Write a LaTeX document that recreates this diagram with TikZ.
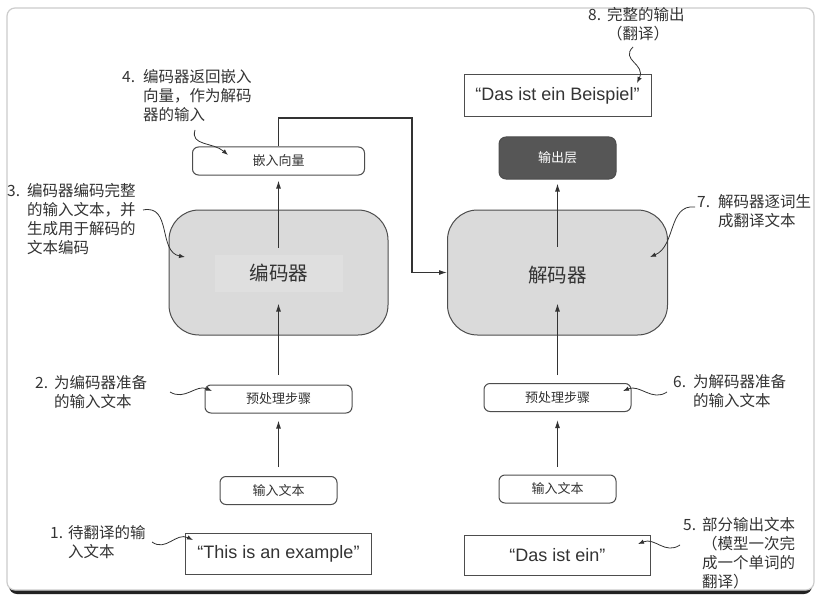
\documentclass[tikz,border=0pt]{standalone}
\usepackage{fontspec}
\setmainfont{Liberation Sans}
\newfontfamily\cjk{Noto Sans CJK SC}
\usetikzlibrary{arrows.meta}
\definecolor{txt}{HTML}{333333}
\definecolor{edge}{HTML}{4D4D4D}
\definecolor{boxfill}{HTML}{DADADA}
\definecolor{hilite}{HTML}{DFDFDF}
\definecolor{darkfill}{HTML}{565656}
\definecolor{shadow}{HTML}{222222}
\begin{document}
\begin{tikzpicture}[x=1pt,y=-1pt,
  smallbox/.style={draw=edge, line width=1pt, rounded corners=6pt, minimum width=#1,
    minimum height=28pt, inner sep=0pt, fill=white, font=\cjk\fontsize{13}{15}\selectfont, text=txt},
  bigbox/.style={draw=edge, line width=1pt, rounded corners=30pt, fill=boxfill,
    minimum width=219pt, minimum height=125pt, inner sep=0pt},
  bigtext/.style={font=\cjk\fontsize{19.5}{22}\selectfont, text=txt, inner sep=0pt},
  quotebox/.style={draw=edge, line width=1pt, minimum width=186pt, minimum height=41pt,
    inner sep=0pt, fill=white, font=\fontsize{18}{21}\selectfont, text=txt},
  darkbox/.style={draw=edge, line width=1pt, rounded corners=7pt, fill=darkfill,
    minimum width=117pt, minimum height=42pt, inner sep=0pt,
    font=\cjk\fontsize{13}{15}\selectfont, text=white},
  lab/.style={font=\cjk\fontsize{15.5}{19}\selectfont, text=txt, inner sep=0pt, anchor=north west},
  arr/.style={draw=txt, line width=1.1pt, -{Latex[length=8pt,width=5pt]}},
  squig/.style={draw=txt, line width=0.8pt, -{Latex[length=6pt,width=4.5pt]}}
]
% background and card
\useasboundingbox (0,0) rectangle (818,596);
\fill[white] (0,0) rectangle (818,596);
\fill[shadow, rounded corners=8pt] (9,12) rectangle (812,594);
\draw[gray!40, line width=1.2pt, fill=white, rounded corners=8pt] (7,8) rectangle (814,590);

% encoder column
\node[bigbox] (enc) at (278.5,272.5) {};
\node[bigtext, fill=hilite, minimum width=128pt, minimum height=37pt] (enct) at (279,273) {编码器};
\node[smallbox=172pt] (emb) at (278.5,161) {嵌入向量};
\node[smallbox=147pt] (preL) at (278.5,399) {预处理步骤};
\node[smallbox=117pt] (inL) at (278.5,490.5) {输入文本};
\node[quotebox] (exL) at (278.5,554) {“This is an example”};

% decoder column
\node[bigbox, minimum width=220pt] (dec) at (557.5,272.5) {};
\node[bigtext] (dect) at (557.5,275) {解码器};
\node[darkbox] (outl) at (557.5,158) {输出层};
\node[quotebox, minimum width=187pt, minimum height=42pt] (outtxt) at (557.5,96) {“Das ist ein Beispiel”};
\node[smallbox=147pt] (preR) at (557.5,397.5) {预处理步骤};
\node[smallbox=117pt] (inR) at (557.5,489) {输入文本};
\node[quotebox, minimum height=40pt] (exR) at (557.5,555) {“Das ist ein”};

% main arrows
\draw[arr, shorten <=9pt, shorten >=7pt] (inL) -- (preL);
\draw[arr, shorten <=10pt, shorten >=-32pt] (preL) -- (enc);
\draw[arr, shorten <=-38pt, shorten >=5pt] (enc) -- (emb);
\draw[arr, shorten <=8pt, shorten >=8pt] (inR) -- (preR);
\draw[arr, shorten <=8pt, shorten >=-32pt] (preR) -- (dec);
\draw[arr, shorten <=-37pt, shorten >=4pt] (dec) -- (outl);
\coordinate (k1) at (412,118);
\draw[arr] (emb.north) |- (k1) |- (dec.west);

% annotation labels
\node[lab] (l1) at (50,525) {\begin{tabular}{@{}l@{}l@{}}\makebox[18pt][l]{1.}&待翻译的输\\&入文本\end{tabular}};
\node[lab] (l2) at (35,375) {\begin{tabular}{@{}l@{}l@{}}\makebox[19pt][l]{2.}&为编码器准备\\&的输入文本\end{tabular}};
\node[lab] (l3) at (7,183) {\begin{tabular}{@{}l@{}l@{}}\makebox[20pt][l]{3.}&编码器编码完整\\&的输入文本，并\\&生成用于解码的\\&文本编码\end{tabular}};
\node[lab] (l4) at (122,69) {\begin{tabular}{@{}l@{}l@{}}\makebox[21pt][l]{4.}&编码器返回嵌入\\&向量，作为解码\\&器的输入\end{tabular}};
\node[lab] (l5) at (683,517) {\begin{tabular}{@{}l@{}l@{}}\makebox[19pt][l]{5.}&部分输出文本\\&（模型一次完\\&成一个单词的\\&翻译）\end{tabular}};
\node[lab] (l6) at (673,374) {\begin{tabular}{@{}l@{}l@{}}\makebox[20pt][l]{6.}&为解码器准备\\&的输入文本\end{tabular}};
\node[lab] (l7) at (697,194) {\begin{tabular}{@{}l@{}l@{}}\makebox[21pt][l]{7.}&解码器逐词生\\&成翻译文本\end{tabular}};
\node[lab] (l8) at (588,7) {\begin{tabular}{@{}l@{}l@{}}\makebox[19pt][l]{8.}&完整的输出\\&（翻译）\end{tabular}};

% squiggle connectors
\coordinate (s1) at (152,542); \coordinate (t1) at (193,540);
\coordinate (s2) at (170,392); \coordinate (t2) at (212,391);
\coordinate (s3) at (143,210); \coordinate (t3) at (185,257);
\coordinate (s4) at (195,130); \coordinate (t4) at (228,155);
\coordinate (s5) at (680,545); \coordinate (t5) at (638,544);
\coordinate (s6) at (667,392); \coordinate (t6) at (623,391);
\coordinate (s7) at (695,207); \coordinate (t7) at (650,257);
\coordinate (s8) at (633,47);  \coordinate (t8) at (637,83);
\draw[squig] (s1) .. controls (166,552) and (176,532) .. (t1);
\draw[squig] (s2) .. controls (185,401) and (196,384) .. (t2);
\draw[squig] (s3) .. controls (172,204) and (158,252) .. (t3);
\draw[squig] (s4) .. controls (190,146) and (213,142) .. (t4);
\draw[squig] (s5) .. controls (665,555) and (655,537) .. (t5);
\draw[squig] (s6) .. controls (652,402) and (640,384) .. (t6);
\draw[squig] (s7) .. controls (668,204) and (676,246) .. (t7);
\draw[squig] (s8) .. controls (620,60) and (646,64) .. (t8);
\end{tikzpicture}
\end{document}
